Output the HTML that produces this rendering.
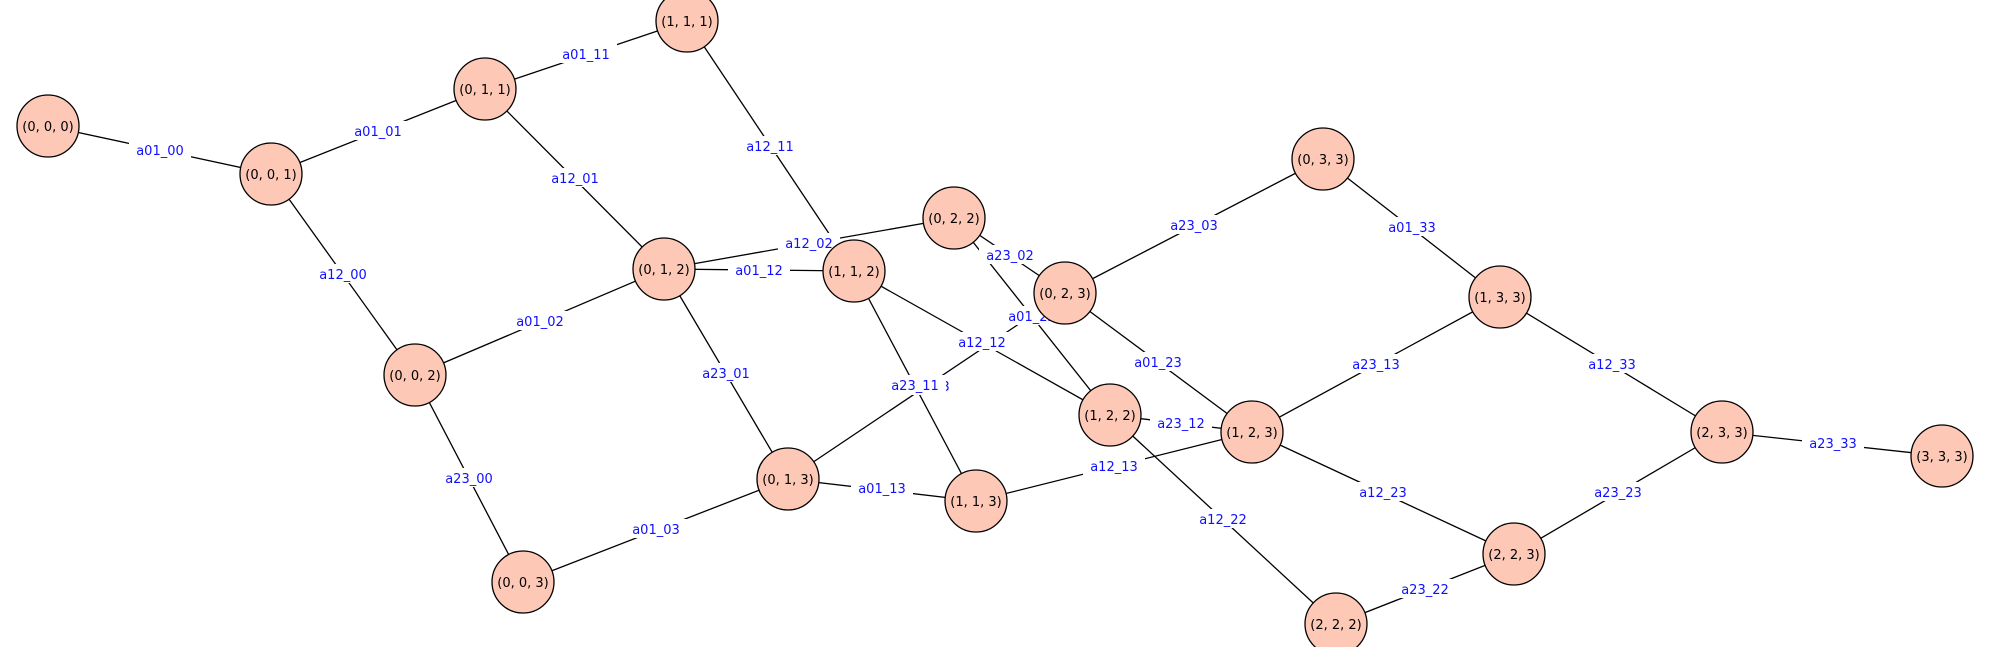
<!DOCTYPE html>
<html><head><meta charset="utf-8"><style>
html,body{margin:0;padding:0;background:#fff;}
svg{display:block;}
text{font-family:"DejaVu Sans","Liberation Sans",sans-serif;font-size:13px;}
</style></head><body>
<svg width="1990" height="647" viewBox="0 0 1990 647" xmlns="http://www.w3.org/2000/svg">
<g stroke="#000" stroke-width="1.3">
<line x1="48" y1="126" x2="271" y2="174"/>
<line x1="271" y1="174" x2="485" y2="89"/>
<line x1="485" y1="89" x2="687" y2="21"/>
<line x1="485" y1="89" x2="664" y2="269"/>
<line x1="271" y1="174" x2="415" y2="375"/>
<line x1="415" y1="375" x2="664" y2="269"/>
<line x1="415" y1="375" x2="523" y2="582"/>
<line x1="523" y1="582" x2="788" y2="479"/>
<line x1="687" y1="21" x2="854" y2="271"/>
<line x1="664" y1="269" x2="954" y2="218"/>
<line x1="664" y1="269" x2="854" y2="271"/>
<line x1="664" y1="269" x2="788" y2="479"/>
<line x1="954" y1="218" x2="1065" y2="293"/>
<line x1="954" y1="218" x2="1110" y2="415"/>
<line x1="854" y1="271" x2="1110" y2="415"/>
<line x1="854" y1="271" x2="976" y2="501"/>
<line x1="788" y1="479" x2="1065" y2="293"/>
<line x1="788" y1="479" x2="976" y2="501"/>
<line x1="976" y1="501" x2="1252" y2="432"/>
<line x1="1110" y1="415" x2="1252" y2="432"/>
<line x1="1110" y1="415" x2="1336" y2="624"/>
<line x1="1065" y1="293" x2="1323" y2="159"/>
<line x1="1065" y1="293" x2="1252" y2="432"/>
<line x1="1323" y1="159" x2="1500" y2="297"/>
<line x1="1252" y1="432" x2="1500" y2="297"/>
<line x1="1252" y1="432" x2="1514" y2="554"/>
<line x1="1500" y1="297" x2="1722" y2="432"/>
<line x1="1336" y1="624" x2="1514" y2="554"/>
<line x1="1514" y1="554" x2="1722" y2="432"/>
<line x1="1722" y1="432" x2="1942" y2="456"/>
</g>
<g id="labels" text-anchor="middle">
<g transform="translate(160,150)"><rect x="-31" y="-10" width="62" height="19" fill="#fff"/><text y="5" fill="#1010ff">a01_00</text></g>
<g transform="translate(378,131)"><rect x="-31" y="-10" width="62" height="19" fill="#fff"/><text y="5" fill="#1010ff">a01_01</text></g>
<g transform="translate(586,54)"><rect x="-31" y="-10" width="62" height="19" fill="#fff"/><text y="5" fill="#1010ff">a01_11</text></g>
<g transform="translate(575,178)"><rect x="-31" y="-10" width="62" height="19" fill="#fff"/><text y="5" fill="#1010ff">a12_01</text></g>
<g transform="translate(343,274)"><rect x="-31" y="-10" width="62" height="19" fill="#fff"/><text y="5" fill="#1010ff">a12_00</text></g>
<g transform="translate(540,321)"><rect x="-31" y="-10" width="62" height="19" fill="#fff"/><text y="5" fill="#1010ff">a01_02</text></g>
<g transform="translate(469,478)"><rect x="-31" y="-10" width="62" height="19" fill="#fff"/><text y="5" fill="#1010ff">a23_00</text></g>
<g transform="translate(656,529)"><rect x="-31" y="-10" width="62" height="19" fill="#fff"/><text y="5" fill="#1010ff">a01_03</text></g>
<g transform="translate(726,373)"><rect x="-31" y="-10" width="62" height="19" fill="#fff"/><text y="5" fill="#1010ff">a23_01</text></g>
<g transform="translate(770,146)"><rect x="-31" y="-10" width="62" height="19" fill="#fff"/><text y="5" fill="#1010ff">a12_11</text></g>
<g transform="translate(809,243)"><rect x="-31" y="-10" width="62" height="19" fill="#fff"/><text y="5" fill="#1010ff">a12_02</text></g>
<g transform="translate(759,270)"><rect x="-31" y="-10" width="62" height="19" fill="#fff"/><text y="5" fill="#1010ff">a01_12</text></g>
<g transform="translate(1010,255)"><rect x="-31" y="-10" width="62" height="19" fill="#fff"/><text y="5" fill="#1010ff">a23_02</text></g>
<g transform="translate(1032,316)"><rect x="-31" y="-10" width="62" height="19" fill="#fff"/><text y="5" fill="#1010ff">a01_22</text></g>
<g transform="translate(982,342)"><rect x="-31" y="-10" width="62" height="19" fill="#fff"/><text y="5" fill="#1010ff">a12_12</text></g>
<g transform="translate(926,386)"><rect x="-31" y="-10" width="62" height="19" fill="#fff"/><text y="5" fill="#1010ff">a12_03</text></g>
<g transform="translate(915,385)"><rect x="-31" y="-10" width="62" height="19" fill="#fff"/><text y="5" fill="#1010ff">a23_11</text></g>
<g transform="translate(882,488)"><rect x="-31" y="-10" width="62" height="19" fill="#fff"/><text y="5" fill="#1010ff">a01_13</text></g>
<g transform="translate(1114,466)"><rect x="-31" y="-10" width="62" height="19" fill="#fff"/><text y="5" fill="#1010ff">a12_13</text></g>
<g transform="translate(1181,423)"><rect x="-31" y="-10" width="62" height="19" fill="#fff"/><text y="5" fill="#1010ff">a23_12</text></g>
<g transform="translate(1223,519)"><rect x="-31" y="-10" width="62" height="19" fill="#fff"/><text y="5" fill="#1010ff">a12_22</text></g>
<g transform="translate(1194,225)"><rect x="-31" y="-10" width="62" height="19" fill="#fff"/><text y="5" fill="#1010ff">a23_03</text></g>
<g transform="translate(1158,362)"><rect x="-31" y="-10" width="62" height="19" fill="#fff"/><text y="5" fill="#1010ff">a01_23</text></g>
<g transform="translate(1412,227)"><rect x="-31" y="-10" width="62" height="19" fill="#fff"/><text y="5" fill="#1010ff">a01_33</text></g>
<g transform="translate(1376,364)"><rect x="-31" y="-10" width="62" height="19" fill="#fff"/><text y="5" fill="#1010ff">a23_13</text></g>
<g transform="translate(1383,492)"><rect x="-31" y="-10" width="62" height="19" fill="#fff"/><text y="5" fill="#1010ff">a12_23</text></g>
<g transform="translate(1612,364)"><rect x="-31" y="-10" width="62" height="19" fill="#fff"/><text y="5" fill="#1010ff">a12_33</text></g>
<g transform="translate(1425,589)"><rect x="-31" y="-10" width="62" height="19" fill="#fff"/><text y="5" fill="#1010ff">a23_22</text></g>
<g transform="translate(1618,492)"><rect x="-31" y="-10" width="62" height="19" fill="#fff"/><text y="5" fill="#1010ff">a23_23</text></g>
<g transform="translate(1833,443)"><rect x="-31" y="-10" width="62" height="19" fill="#fff"/><text y="5" fill="#1010ff">a23_33</text></g>
</g>
<g text-anchor="middle">
<g transform="translate(48,126)"><circle r="31" fill="#fec8b7" stroke="#000" stroke-width="1.3"/><text y="5">(0, 0, 0)</text></g>
<g transform="translate(271,174)"><circle r="31" fill="#fec8b7" stroke="#000" stroke-width="1.3"/><text y="5">(0, 0, 1)</text></g>
<g transform="translate(485,89)"><circle r="31" fill="#fec8b7" stroke="#000" stroke-width="1.3"/><text y="5">(0, 1, 1)</text></g>
<g transform="translate(687,21)"><circle r="31" fill="#fec8b7" stroke="#000" stroke-width="1.3"/><text y="5">(1, 1, 1)</text></g>
<g transform="translate(664,269)"><circle r="31" fill="#fec8b7" stroke="#000" stroke-width="1.3"/><text y="5">(0, 1, 2)</text></g>
<g transform="translate(415,375)"><circle r="31" fill="#fec8b7" stroke="#000" stroke-width="1.3"/><text y="5">(0, 0, 2)</text></g>
<g transform="translate(523,582)"><circle r="31" fill="#fec8b7" stroke="#000" stroke-width="1.3"/><text y="5">(0, 0, 3)</text></g>
<g transform="translate(854,271)"><circle r="31" fill="#fec8b7" stroke="#000" stroke-width="1.3"/><text y="5">(1, 1, 2)</text></g>
<g transform="translate(954,218)"><circle r="31" fill="#fec8b7" stroke="#000" stroke-width="1.3"/><text y="5">(0, 2, 2)</text></g>
<g transform="translate(1065,293)"><circle r="31" fill="#fec8b7" stroke="#000" stroke-width="1.3"/><text y="5">(0, 2, 3)</text></g>
<g transform="translate(1323,159)"><circle r="31" fill="#fec8b7" stroke="#000" stroke-width="1.3"/><text y="5">(0, 3, 3)</text></g>
<g transform="translate(788,479)"><circle r="31" fill="#fec8b7" stroke="#000" stroke-width="1.3"/><text y="5">(0, 1, 3)</text></g>
<g transform="translate(976,501)"><circle r="31" fill="#fec8b7" stroke="#000" stroke-width="1.3"/><text y="5">(1, 1, 3)</text></g>
<g transform="translate(1110,415)"><circle r="31" fill="#fec8b7" stroke="#000" stroke-width="1.3"/><text y="5">(1, 2, 2)</text></g>
<g transform="translate(1252,432)"><circle r="31" fill="#fec8b7" stroke="#000" stroke-width="1.3"/><text y="5">(1, 2, 3)</text></g>
<g transform="translate(1500,297)"><circle r="31" fill="#fec8b7" stroke="#000" stroke-width="1.3"/><text y="5">(1, 3, 3)</text></g>
<g transform="translate(1722,432)"><circle r="31" fill="#fec8b7" stroke="#000" stroke-width="1.3"/><text y="5">(2, 3, 3)</text></g>
<g transform="translate(1942,456)"><circle r="31" fill="#fec8b7" stroke="#000" stroke-width="1.3"/><text y="5">(3, 3, 3)</text></g>
<g transform="translate(1514,554)"><circle r="31" fill="#fec8b7" stroke="#000" stroke-width="1.3"/><text y="5">(2, 2, 3)</text></g>
<g transform="translate(1336,624)"><circle r="31" fill="#fec8b7" stroke="#000" stroke-width="1.3"/><text y="5">(2, 2, 2)</text></g>
</g>
</svg>
</body></html>
